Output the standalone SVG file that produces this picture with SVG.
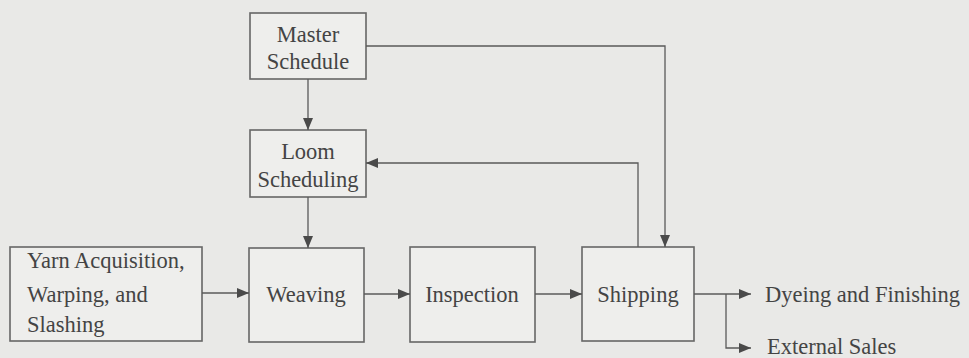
<svg xmlns="http://www.w3.org/2000/svg" width="969" height="358" viewBox="0 0 969 358">
<defs>
<marker id="ah" viewBox="0 0 12 10" refX="12" refY="5" markerWidth="12" markerHeight="10" markerUnits="userSpaceOnUse" orient="auto">
<path d="M0,0 L12,5 L0,10 Z" fill="#4a4a4a"/>
</marker>
</defs>
<style>
.box{fill:#eeeeec;stroke:#666;stroke-width:1.6}
.t{font-family:"Liberation Serif","Times New Roman",serif;font-size:22.5px;fill:#444}
.m{text-anchor:middle}
.c{fill:none;stroke:#5a5a5a;stroke-width:1.3}
</style>
<rect x="0" y="0" width="969" height="358" fill="#e9e9e7"/>
<g id="master"><rect class="box" x="250" y="13" width="116" height="66"/><text class="t m" x="308" y="42">Master</text><text class="t m" x="308" y="69">Schedule</text></g>
<g id="loom"><rect class="box" x="250" y="130" width="116" height="67"/><text class="t m" x="308" y="159">Loom</text><text class="t m" x="308" y="187">Scheduling</text></g>
<g id="yarn"><rect class="box" x="10" y="247" width="192" height="94"/><text class="t" x="27" y="268">Yarn Acquisition,</text><text class="t" x="27" y="302">Warping, and</text><text class="t" x="27" y="332">Slashing</text></g>
<g id="weaving"><rect class="box" x="249" y="248" width="115" height="94"/><text class="t m" x="306" y="302">Weaving</text></g>
<g id="inspection"><rect class="box" x="410" y="247" width="125" height="95"/><text class="t m" x="472" y="302">Inspection</text></g>
<g id="shipping"><rect class="box" x="582" y="247" width="112" height="94"/><text class="t m" x="638" y="302">Shipping</text></g>
<g id="dyeing"><text class="t" x="765" y="302">Dyeing and Finishing</text></g>
<g id="sales"><text class="t" x="767" y="354">External Sales</text></g>
<g id="connectors">
<path class="c" d="M308,79 V130" marker-end="url(#ah)"/>
<path class="c" d="M308,197 V248" marker-end="url(#ah)"/>
<path class="c" d="M366,46 H665 V247" marker-end="url(#ah)"/>
<path class="c" d="M638,247 V163 H366" marker-end="url(#ah)"/>
<path class="c" d="M202,293 H249" marker-end="url(#ah)"/>
<path class="c" d="M364,294 H410" marker-end="url(#ah)"/>
<path class="c" d="M535,294 H582" marker-end="url(#ah)"/>
<path class="c" d="M694,294 H751" marker-end="url(#ah)"/>
<path class="c" d="M726,294 V348 H751" marker-end="url(#ah)"/>
</g>
</svg>
